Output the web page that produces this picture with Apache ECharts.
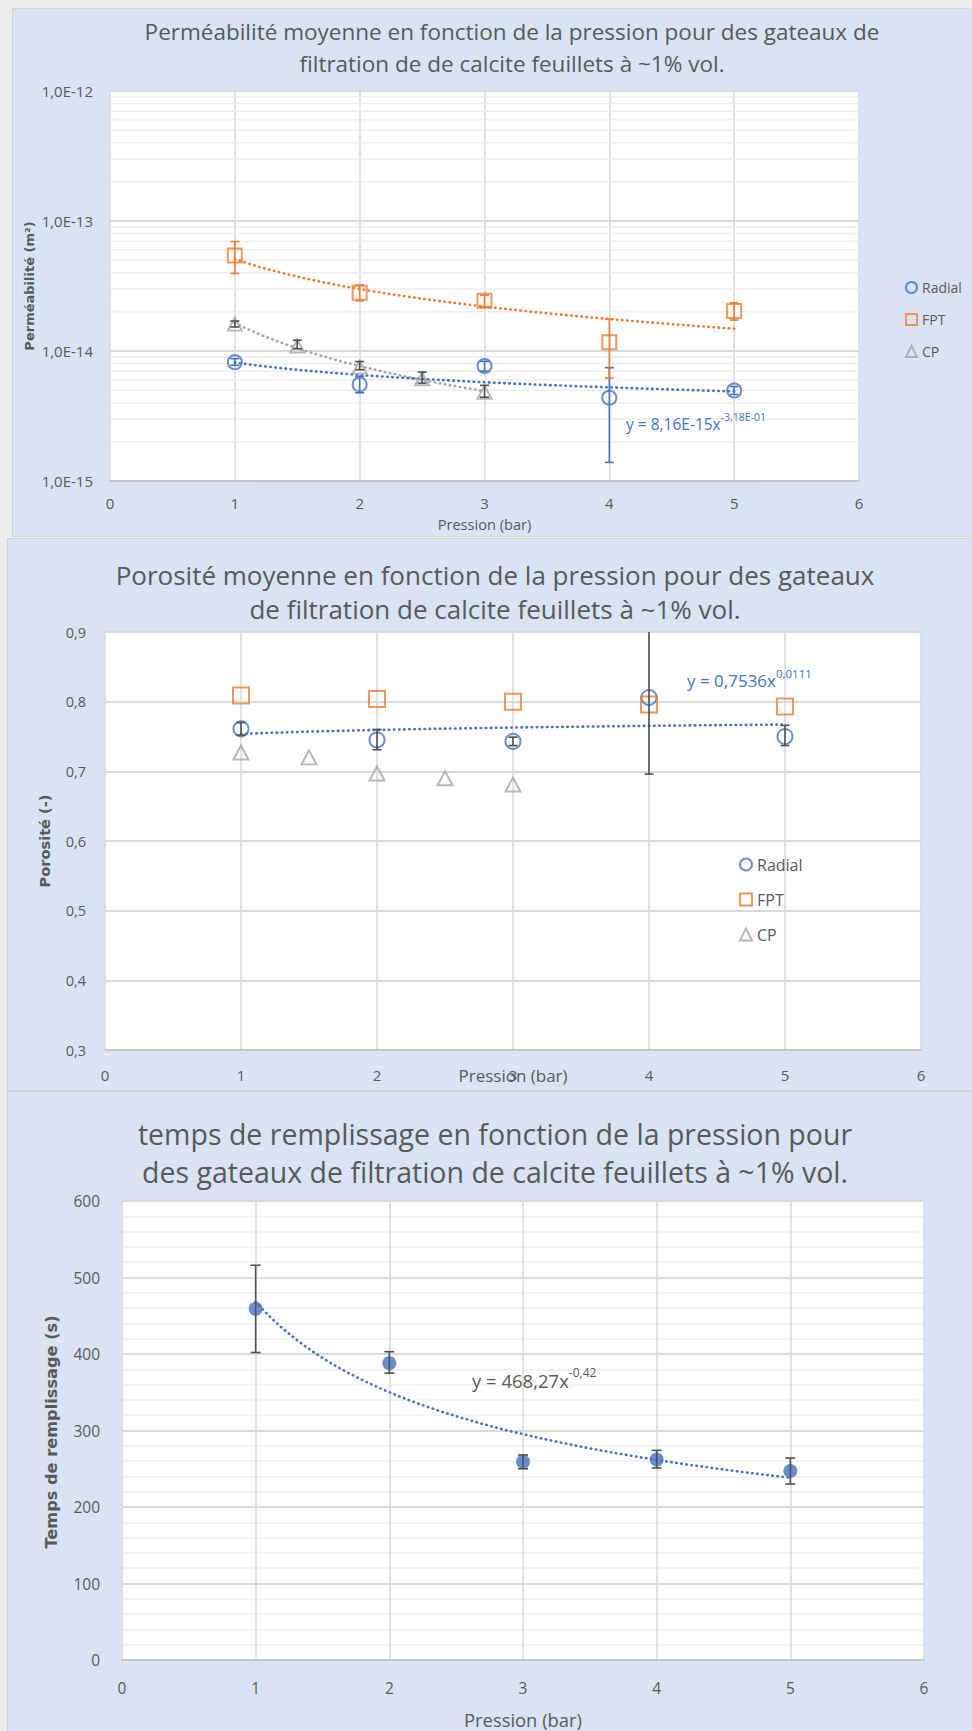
<!DOCTYPE html>
<html lang="fr">
<head>
<meta charset="utf-8">
<title>Gateaux de filtration de calcite feuillets à ~1% vol.</title>
<script src="https://cdn.jsdelivr.net/npm/echarts@6/dist/echarts.min.js"></script>
<style>
  html, body { margin: 0; padding: 0; background: #ECECEC; }
  #page { position: relative; width: 972px; height: 1731px; overflow: hidden; }
  .panel { position: absolute; background: #DAE3F3; border: 1px solid #D3D3D3; box-sizing: border-box; }
  #chart { position: absolute; left: 0; top: 0; width: 972px; height: 1731px; }
</style>
</head>
<body>
<div id="page">
  <div class="panel" style="left:12px;top:8px;width:962px;height:529px"></div>
  <div class="panel" style="left:7px;top:538px;width:967px;height:553px"></div>
  <div class="panel" style="left:7px;top:1091px;width:967px;height:642px"></div>
  <div id="chart"></div>
</div>
<script>
// ---- data -------------------------------------------------------------
const pressure   = [1, 2, 3, 4, 5];          // bar
const pressureCP = [1, 1.5, 2, 2.5, 3];      // bar
const xTicks     = ['0', '1', '2', '3', '4', '5', '6'];

// Perméabilité (m²)
const permRadial     = [8.20e-15, 5.53e-15, 7.66e-15, 4.37e-15, 4.97e-15];
const permRadialLow  = [7.76e-15, 4.77e-15, 7.01e-15, 1.39e-15, 4.63e-15];
const permRadialHigh = [8.73e-15, 6.38e-15, 8.33e-15, 7.44e-15, 5.33e-15];
const permFPT        = [5.43e-14, 2.80e-14, 2.43e-14, 1.17e-14, 2.03e-14];
const permFPTLow     = [3.95e-14, 2.43e-14, 2.19e-14, 6.19e-15, 1.73e-14];
const permFPTHigh    = [6.95e-14, 3.22e-14, 2.69e-14, 1.76e-14, 2.35e-14];
const permCP         = [1.61e-14, 1.09e-14, 7.52e-15, 6.12e-15, 4.82e-15];
const permCPLow      = [1.53e-14, 1.04e-14, 7.18e-15, 5.66e-15, 4.41e-15];
const permCPHigh     = [1.70e-14, 1.21e-14, 8.30e-15, 6.88e-15, 5.44e-15];
const permDecades    = [1e-15, 1e-14, 1e-13, 1e-12];
const permTicks      = ['1,0E-15', '1,0E-14', '1,0E-13', '1,0E-12'];

// Porosité (-)
const poroRadial     = [0.761, 0.745, 0.743, 0.806, 0.750];
const poroRadialLow  = [0.752, 0.731, 0.737, 0.696, 0.737];
const poroRadialHigh = [0.770, 0.760, 0.749, 0.916, 0.766];
const poroFPT        = [0.809, 0.804, 0.800, 0.796, 0.793];
const poroCP         = [0.727, 0.720, 0.697, 0.690, 0.681];
const poroTicks      = ['0,3', '0,4', '0,5', '0,6', '0,7', '0,8', '0,9'];

// Temps de remplissage (s)
const fillTime     = [459, 388, 259, 262, 247];
const fillTimeLow  = [402, 375, 250, 251, 230];
const fillTimeHigh = [516, 403, 268, 274, 264];

// power trendlines y = a·x^b  ->  [a, b]
const permRadialTrend = [8.16e-15, -0.318];
const poroRadialTrend = [0.7536, 0.0111];
const fillTimeTrend   = [468.27, -0.42];

// ---- helpers ----------------------------------------------------------
const FONT = "'Open Sans', sans-serif";
const GREY_TEXT = '#595959';
const BLUE = '#4472C4', ORANGE = '#ED7D31', GREY = '#A5A5A5';

// least-squares power fit in log-log space (what a spreadsheet power trendline does)
function powerFit(xs, ys) {
  const lx = xs.map(Math.log), ly = ys.map(Math.log), n = xs.length;
  const mx = lx.reduce((s, v) => s + v, 0) / n;
  const my = ly.reduce((s, v) => s + v, 0) / n;
  let sxy = 0, sxx = 0;
  for (let i = 0; i < n; i++) { sxy += (lx[i] - mx) * (ly[i] - my); sxx += (lx[i] - mx) ** 2; }
  const b = sxy / sxx;
  return [Math.exp(my - b * mx), b];
}
function powerCurve(coef, x0, x1) {
  const [a, b] = coef, pts = [], n = 80;
  for (let i = 0; i <= n; i++) { const x = x0 + (x1 - x0) * i / n; pts.push([x, a * Math.pow(x, b)]); }
  return pts;
}
const pairs = (xs, ys) => xs.map((x, i) => [x, ys[i]]);

function hollowScatter(name, g, xs, ys, symbol, color, size) {
  return {
    type: 'scatter', name, xAxisIndex: g, yAxisIndex: g, z: 4, symbol, symbolSize: size,
    data: pairs(xs, ys), emphasis: { disabled: true },
    itemStyle: { color: 'rgba(255,255,255,0)', borderColor: color, borderWidth: 2 }
  };
}
function trendLine(g, coef, x0, x1, color) {
  return {
    type: 'line', xAxisIndex: g, yAxisIndex: g, z: 3, showSymbol: false, silent: true,
    data: powerCurve(coef, x0, x1),
    lineStyle: { color, width: 2.6, type: [0.5, 4.6], cap: 'round' }
  };
}
function errorBars(g, xs, lows, highs, color, capHalf) {
  return {
    type: 'custom', xAxisIndex: g, yAxisIndex: g, z: 5, silent: true,
    data: xs.map((x, i) => [x, lows[i], highs[i]]),
    encode: { x: 0, y: [1, 2] },
    renderItem(params, api) {
      const cs = params.coordSys;
      const lo = api.coord([api.value(0), api.value(1)]);
      const hi = api.coord([api.value(0), api.value(2)]);
      const top = cs.y, bottom = cs.y + cs.height;
      const style = { stroke: color, lineWidth: 1.6, fill: null };
      const kids = [{ type: 'line', shape: { x1: lo[0], y1: Math.min(lo[1], bottom), x2: hi[0], y2: Math.max(hi[1], top) }, style }];
      if (hi[1] >= top) kids.push({ type: 'line', shape: { x1: hi[0] - capHalf, y1: hi[1], x2: hi[0] + capHalf, y2: hi[1] }, style });
      if (lo[1] <= bottom) kids.push({ type: 'line', shape: { x1: lo[0] - capHalf, y1: lo[1], x2: lo[0] + capHalf, y2: lo[1] }, style });
      return { type: 'group', children: kids };
    }
  };
}
function xAxisCfg(g, fontSize, margin) {
  return {
    type: 'value', gridIndex: g, min: 0, max: 6, interval: 1,
    axisLine: { show: true, onZero: false, lineStyle: { color: '#BFBFBF', width: 1.5 } },
    axisTick: { show: false },
    axisLabel: { fontFamily: FONT, fontSize, color: GREY_TEXT, margin, formatter: v => xTicks[Math.round(v)] },
    splitLine: { show: true, lineStyle: { color: '#D9D9D9', width: 1.5 } }
  };
}
function legendCfg(left, top, icon, gap, fontSize) {
  const item = (name, shape, color) => ({
    name, icon: shape, itemStyle: { color: 'rgba(255,255,255,0)', borderColor: color, borderWidth: 2 }
  });
  return {
    orient: 'vertical', left, top, itemWidth: icon, itemHeight: icon, itemGap: gap,
    selectedMode: false,
    textStyle: { fontFamily: FONT, fontSize, color: GREY_TEXT, lineHeight: fontSize + 3 },
    data: [item('Radial', 'circle', BLUE), item('FPT', 'rect', ORANGE), item('CP', 'triangle', GREY)]
  };
}
function text(x, y, str, size, opts = {}) {
  return {
    type: 'text', x, y, rotation: opts.rotation || 0, z: 10, silent: true,
    style: {
      text: str, fill: opts.color || GREY_TEXT, fontFamily: opts.family || FONT, fontSize: size,
      fontWeight: opts.weight || 'normal', align: opts.align || 'center', verticalAlign: 'middle',
      lineHeight: opts.lineHeight || size * 1.2
    }
  };
}
function equation(x, y, base, sup, size, supSize, color, lineH) {
  return {
    type: 'text', x, y, z: 10, silent: true,
    style: {
      text: '{b|' + base + '}{s|' + sup + '}', align: 'left', verticalAlign: 'middle',
      rich: {
        b: { fill: color, fontFamily: FONT, fontSize: size, lineHeight: lineH, verticalAlign: 'bottom' },
        s: { fill: color, fontFamily: FONT, fontSize: supSize, lineHeight: supSize, verticalAlign: 'top' }
      }
    }
  };
}

// minor gridlines of the logarithmic axis (2..9 × each decade)
const permMinor = [];
permDecades.slice(0, -1).forEach(d => { for (let m = 2; m <= 9; m++) permMinor.push(d * m); });

const permFPTTrend = powerFit(pressure, permFPT);
const permCPTrend  = powerFit(pressureCP, permCP);

// ---- chart ------------------------------------------------------------
const chart = echarts.init(document.getElementById('chart'), null, { renderer: 'svg' });

chart.setOption({
  backgroundColor: 'transparent',
  animation: false,
  grid: [
    { left: 110, top: 91,   width: 749, height: 390, show: true, backgroundColor: '#FFFFFF', borderWidth: 0 },
    { left: 105, top: 632,  width: 816, height: 418, show: true, backgroundColor: '#FFFFFF', borderWidth: 0 },
    { left: 122, top: 1201, width: 802, height: 459, show: true, backgroundColor: '#FFFFFF', borderWidth: 0 }
  ],
  xAxis: [xAxisCfg(0, 15, 14), xAxisCfg(1, 15, 17), xAxisCfg(2, 15.5, 20)],
  yAxis: [
    {
      type: 'log', logBase: 10, gridIndex: 0, min: permDecades[0], max: permDecades[3],
      axisLine: { show: false, onZero: false }, axisTick: { show: false },
      axisLabel: { fontFamily: FONT, fontSize: 15, color: GREY_TEXT, margin: 17,
        formatter: v => permTicks[permDecades.findIndex(d => Math.abs(Math.log10(d) - Math.log10(v)) < 1e-6)] },
      splitLine: { lineStyle: { color: '#D9D9D9', width: 2 } }
    },
    {
      type: 'value', gridIndex: 1, min: 0.3, max: 0.9, interval: 0.1,
      axisLine: { show: false, onZero: false }, axisTick: { show: false },
      axisLabel: { fontFamily: FONT, fontSize: 14.5, color: GREY_TEXT, margin: 19,
        formatter: v => poroTicks[Math.round((v - 0.3) * 10)] },
      splitLine: { lineStyle: { color: '#D9D9D9', width: 2 } }
    },
    {
      type: 'value', gridIndex: 2, min: 0, max: 600, interval: 100,
      axisLine: { show: false, onZero: false }, axisTick: { show: false },
      axisLabel: { fontFamily: FONT, fontSize: 15.5, color: GREY_TEXT, margin: 22 },
      splitLine: { lineStyle: { color: '#D9D9D9', width: 2 } },
      minorTick: { show: false, splitNumber: 5 },
      minorSplitLine: { show: true, lineStyle: { color: '#EFEFEF', width: 1.5 } }
    }
  ],
  legend: [legendCfg(900, 274, 11, 15, 14), legendCfg(734, 850, 12, 16, 16)],
  series: [
    // Perméabilité
    {
      type: 'custom', xAxisIndex: 0, yAxisIndex: 0, z: 1, silent: true,
      data: permMinor.map(v => [0, v]), encode: { x: 0, y: 1 },
      renderItem(params, api) {
        const cs = params.coordSys, p = api.coord([0, api.value(1)]);
        return { type: 'line', shape: { x1: cs.x, y1: p[1], x2: cs.x + cs.width, y2: p[1] },
          style: { stroke: '#EDEDED', lineWidth: 1.5 } };
      }
    },
    trendLine(0, permFPTTrend, 1, 5, ORANGE),
    trendLine(0, permCPTrend, 1, 3, GREY),
    trendLine(0, permRadialTrend, 1, 5, BLUE),
    hollowScatter('Radial', 0, pressure, permRadial, 'circle', BLUE, 14),
    hollowScatter('FPT', 0, pressure, permFPT, 'rect', ORANGE, 14),
    hollowScatter('CP', 0, pressureCP, permCP, 'triangle', GREY, [14, 13]),
    errorBars(0, pressure, permRadialLow, permRadialHigh, BLUE, 4.5),
    errorBars(0, pressure, permFPTLow, permFPTHigh, ORANGE, 4.5),
    errorBars(0, pressureCP, permCPLow, permCPHigh, '#505050', 4.5),

    // Porosité
    trendLine(1, poroRadialTrend, 1, 5, BLUE),
    hollowScatter('Radial', 1, pressure, poroRadial, 'circle', BLUE, 15),
    hollowScatter('FPT', 1, pressure, poroFPT, 'rect', ORANGE, 16),
    hollowScatter('CP', 1, pressureCP, poroCP, 'triangle', GREY, [15, 14]),
    errorBars(1, pressure, poroRadialLow, poroRadialHigh, '#505050', 4.5),

    // Temps de remplissage
    trendLine(2, fillTimeTrend, 1, 5, BLUE),
    {
      type: 'scatter', name: 'Temps de remplissage', xAxisIndex: 2, yAxisIndex: 2, z: 4,
      symbol: 'circle', symbolSize: 14, data: pairs(pressure, fillTime),
      itemStyle: { color: BLUE }, emphasis: { disabled: true }
    },
    errorBars(2, pressure, fillTimeLow, fillTimeHigh, '#505050', 5)
  ],
  graphic: [
    text(512, 47, 'Perméabilité moyenne en fonction de la pression pour des gateaux de\nfiltration de de calcite feuillets à ~1% vol.', 22.5, { lineHeight: 32 }),
    text(495, 592, 'Porosité moyenne en fonction de la pression pour des gateaux\nde filtration de calcite feuillets à ~1% vol.', 26, { lineHeight: 34 }),
    text(495, 1153, 'temps de remplissage en fonction de la pression pour\ndes gateaux de filtration de calcite feuillets à ~1% vol.', 28.5, { lineHeight: 38 }),

    text(484.5, 524, 'Pression (bar)', 14.6),
    text(513, 1075, 'Pression (bar)', 17),
    text(523, 1719, 'Pression (bar)', 18.4),

    text(29, 286, 'Perméabilité (m²)', 13, { rotation: Math.PI / 2, weight: 'bold', family: "'DejaVu Sans', sans-serif" }),
    text(44.5, 841, 'Porosité (-)', 14.6, { rotation: Math.PI / 2, weight: 'bold', family: "'DejaVu Sans', sans-serif" }),
    text(51, 1432, 'Temps de remplissage (s)', 16.2, { rotation: Math.PI / 2, weight: 'bold', family: "'DejaVu Sans', sans-serif" }),

    equation(626, 421.5, 'y = 8,16E-15x', '-3,18E-01', 15.5, 10.5, BLUE, 20),
    equation(687, 678, 'y = 0,7536x', '0,0111', 17, 11.5, BLUE, 22),
    equation(472, 1378, 'y = 468,27x', '-0,42', 18.5, 12, GREY_TEXT, 24)
  ]
});
</script>
</body>
</html>
